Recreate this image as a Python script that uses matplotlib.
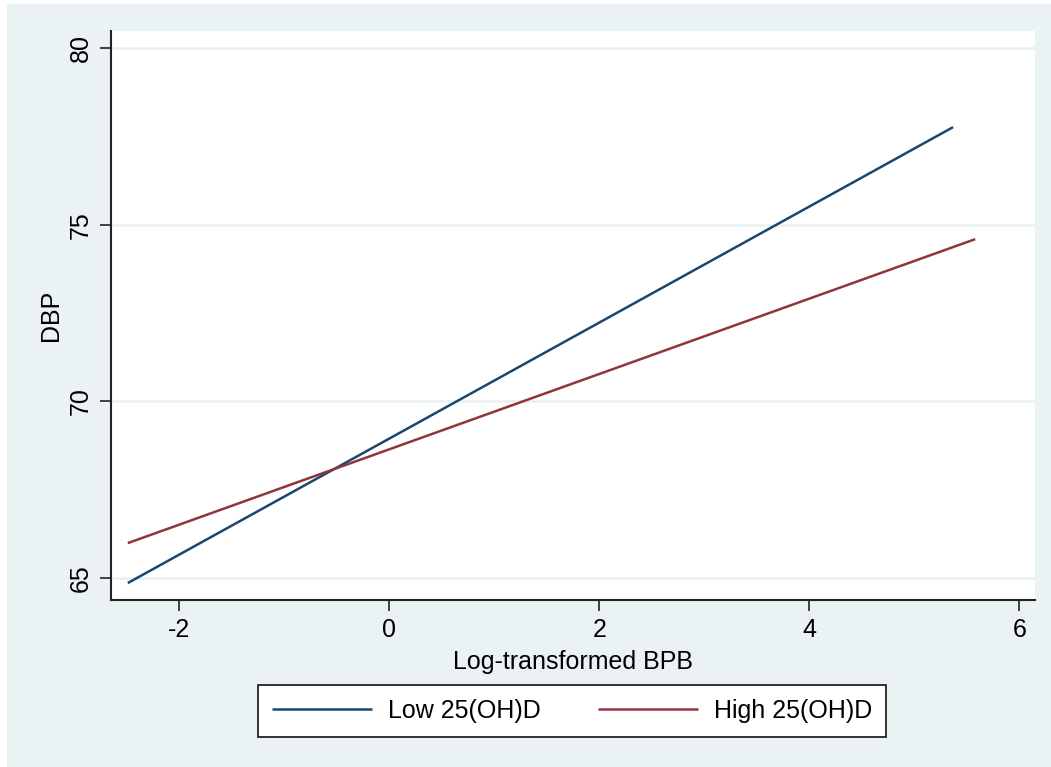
"""DBP vs log-transformed BPB, fitted lines by 25(OH)D group (Stata-style)."""

import matplotlib.pyplot as plt
from matplotlib.patches import Rectangle

plt.rcParams["font.family"] = ["Liberation Sans", "DejaVu Sans"]
plt.rcParams["axes.unicode_minus"] = False

# fitted line end points
low_x = [-2.49, 5.37]
low_y = [64.86, 77.76]
high_x = [-2.49, 5.58]
high_y = [65.99, 74.59]

x_ticks = [-2, 0, 2, 4, 6]
y_ticks = [65, 70, 75, 80]

BG = "#EAF2F3"
NAVY = "#1A476F"
MAROON = "#90353B"

W, H = 1051, 767
fig = plt.figure(figsize=(W / 100, H / 100), dpi=100)
fig.patch.set_facecolor("white")
fig.add_artist(Rectangle((7 / W, 0), 1 - 7 / W, 1 - 4 / H, transform=fig.transFigure,
                         facecolor=BG, edgecolor="none", zorder=0))

ax = fig.add_axes([111 / W, (H - 600) / H, (1035 - 111) / W, (600 - 31) / H])
ax.set_facecolor("white")

ax.plot(low_x, low_y, color=NAVY, lw=1.8, label="Low 25(OH)D", solid_capstyle="butt")
ax.plot(high_x, high_y, color=MAROON, lw=1.8, label="High 25(OH)D", solid_capstyle="butt")

ax.set_xlim(-2.65, 6.15)
ax.set_ylim(64.38, 80.48)
ax.set_xticks(x_ticks)
ax.set_yticks(y_ticks)
ax.set_yticklabels([str(t) for t in y_ticks], rotation=90, va="center")
ax.tick_params(direction="out", length=8, width=1.2, color="#222222", labelsize=18, pad=5)

for t in y_ticks:
    ax.axhline(t, color=BG, lw=2, zorder=0.5)

for side in ["top", "right"]:
    ax.spines[side].set_visible(False)
for side in ["left", "bottom"]:
    ax.spines[side].set_linewidth(1.5)
    ax.spines[side].set_color("#222222")

ax.set_xlabel("Log-transformed BPB", fontsize=18, labelpad=6)
ax.set_ylabel("DBP", fontsize=18, labelpad=4)

leg = fig.legend(loc="center", bbox_to_anchor=(572 / W, 1 - 711 / H), ncol=2,
                 fontsize=18, frameon=True, fancybox=False, edgecolor="#111111",
                 facecolor="white", framealpha=1,
                 handlelength=4.0, handletextpad=0.65, columnspacing=2.3,
                 borderpad=0.55, borderaxespad=0)
leg.get_frame().set_linewidth(1.2)

fig.savefig("out.png", dpi=100)
